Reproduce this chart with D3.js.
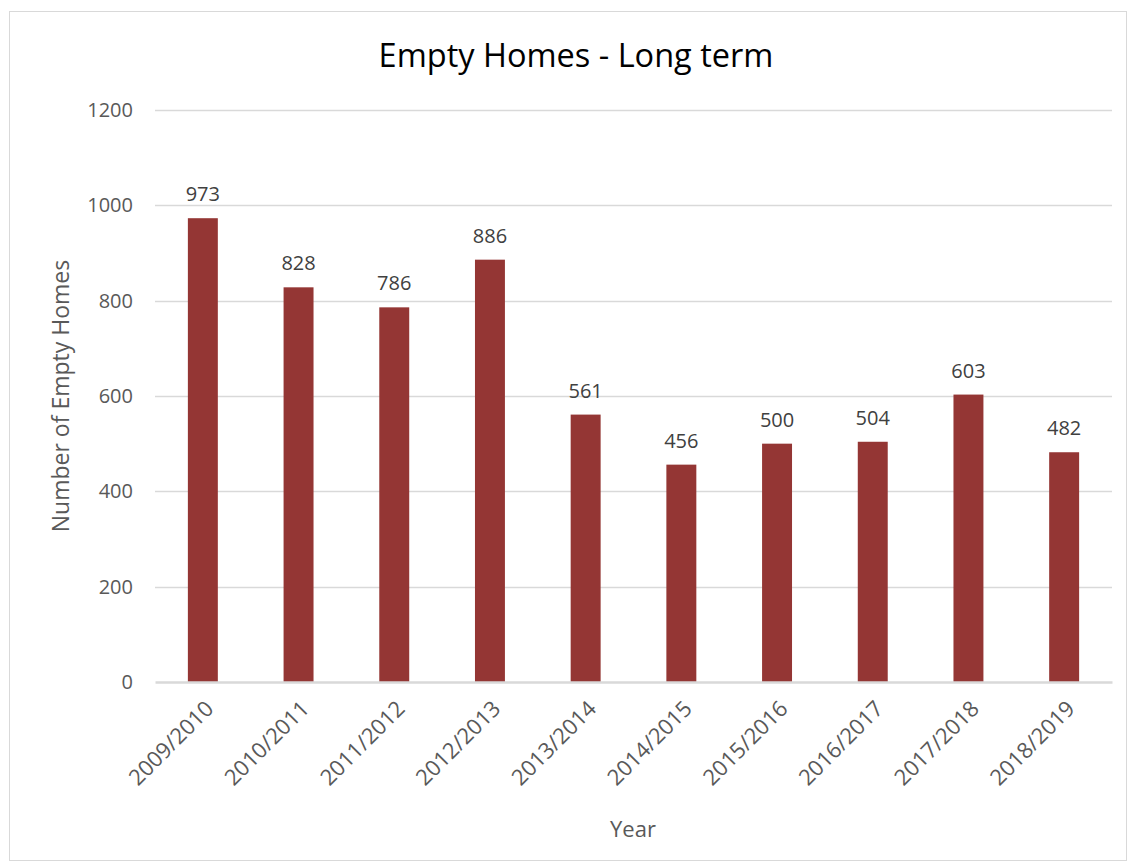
<!DOCTYPE html>
<html><head><meta charset="utf-8">
<script src="https://cdn.jsdelivr.net/npm/d3@7"></script>
<style>body{margin:0;background:#fff;} text{font-family:"Open Sans",sans-serif;}</style>
</head><body>
<svg id="chart" width="1129" height="862"></svg>
<script>
const categories = ["2009/2010","2010/2011","2011/2012","2012/2013","2013/2014","2014/2015","2015/2016","2016/2017","2017/2018","2018/2019"];
const values = [973,828,786,886,561,456,500,504,603,482];
const yTicks = [0,200,400,600,800,1000,1200];
const title = "Empty Homes - Long term";
const xTitle = "Year";
const yTitle = "Number of Empty Homes";

const svg = d3.select("#chart");
const m = {left:155, right:1112, top:110, bottom:682};
const textColor = "#595959";

svg.append("rect").attr("x",9.5).attr("y",11.5).attr("width",1117).attr("height",849)
  .attr("fill","#fff").attr("stroke","#d9d9d9").attr("stroke-width",1);

const x = d3.scaleBand().domain(categories).range([m.left,m.right]).padding(0);
const y = d3.scaleLinear().domain([0,1200]).range([m.bottom,m.top]);
const barW = x.bandwidth()*0.313;

// gridlines
svg.append("g").selectAll("line").data(yTicks.filter(d=>d>0)).join("line")
  .attr("x1",m.left).attr("x2",m.right)
  .attr("y1",d=>Math.round(y(d))+0.5).attr("y2",d=>Math.round(y(d))+0.5)
  .attr("stroke","#d9d9d9").attr("stroke-width",1.5);

// y axis labels
const yAxis = d3.axisLeft(y).tickValues(yTicks).tickFormat(d3.format("d")).tickSize(0).tickPadding(22);
const gy = svg.append("g").attr("transform",`translate(${m.left},0)`).call(yAxis);
gy.select(".domain").remove();
gy.selectAll("text").attr("fill",textColor).style("font-size","20px").style("font-family","'Open Sans',sans-serif");

// bars
svg.append("g").selectAll("rect").data(values).join("rect")
  .attr("x",(d,i)=>x(categories[i])+x.bandwidth()/2-barW/2)
  .attr("width",barW)
  .attr("y",d=>y(d)).attr("height",d=>y(0)-y(d))
  .attr("fill","#943634");

// data labels
svg.append("g").selectAll("text").data(values).join("text")
  .attr("x",(d,i)=>x(categories[i])+x.bandwidth()/2)
  .attr("y",d=>y(d)-17)
  .attr("text-anchor","middle").attr("fill","#404040")
  .style("font-size","20px").text(d=>d);

// x axis
const xAxis = d3.axisBottom(x).tickSize(0).tickPadding(0);
const gx = svg.append("g").attr("transform",`translate(0,${m.bottom})`).call(xAxis);
gx.select(".domain").attr("stroke","#d9d9d9").attr("stroke-width",2.5);
gx.selectAll("text").attr("fill",textColor).style("font-size","22px").style("font-family","'Open Sans',sans-serif")
  .attr("text-anchor","end").attr("dy",null).attr("y",null)
  .attr("transform","translate(12,28) rotate(-45)");

// titles
svg.append("text").attr("x",576).attr("y",67).attr("text-anchor","middle")
  .attr("fill","#000").style("font-size","32.5px").text(title);
svg.append("text").attr("x",633).attr("y",837).attr("text-anchor","middle")
  .attr("fill",textColor).style("font-size","22px").text(xTitle);
svg.append("text").attr("transform","translate(69,396) rotate(-90)").attr("text-anchor","middle")
  .attr("fill",textColor).style("font-size","23px").text(yTitle);
</script>
</body></html>
